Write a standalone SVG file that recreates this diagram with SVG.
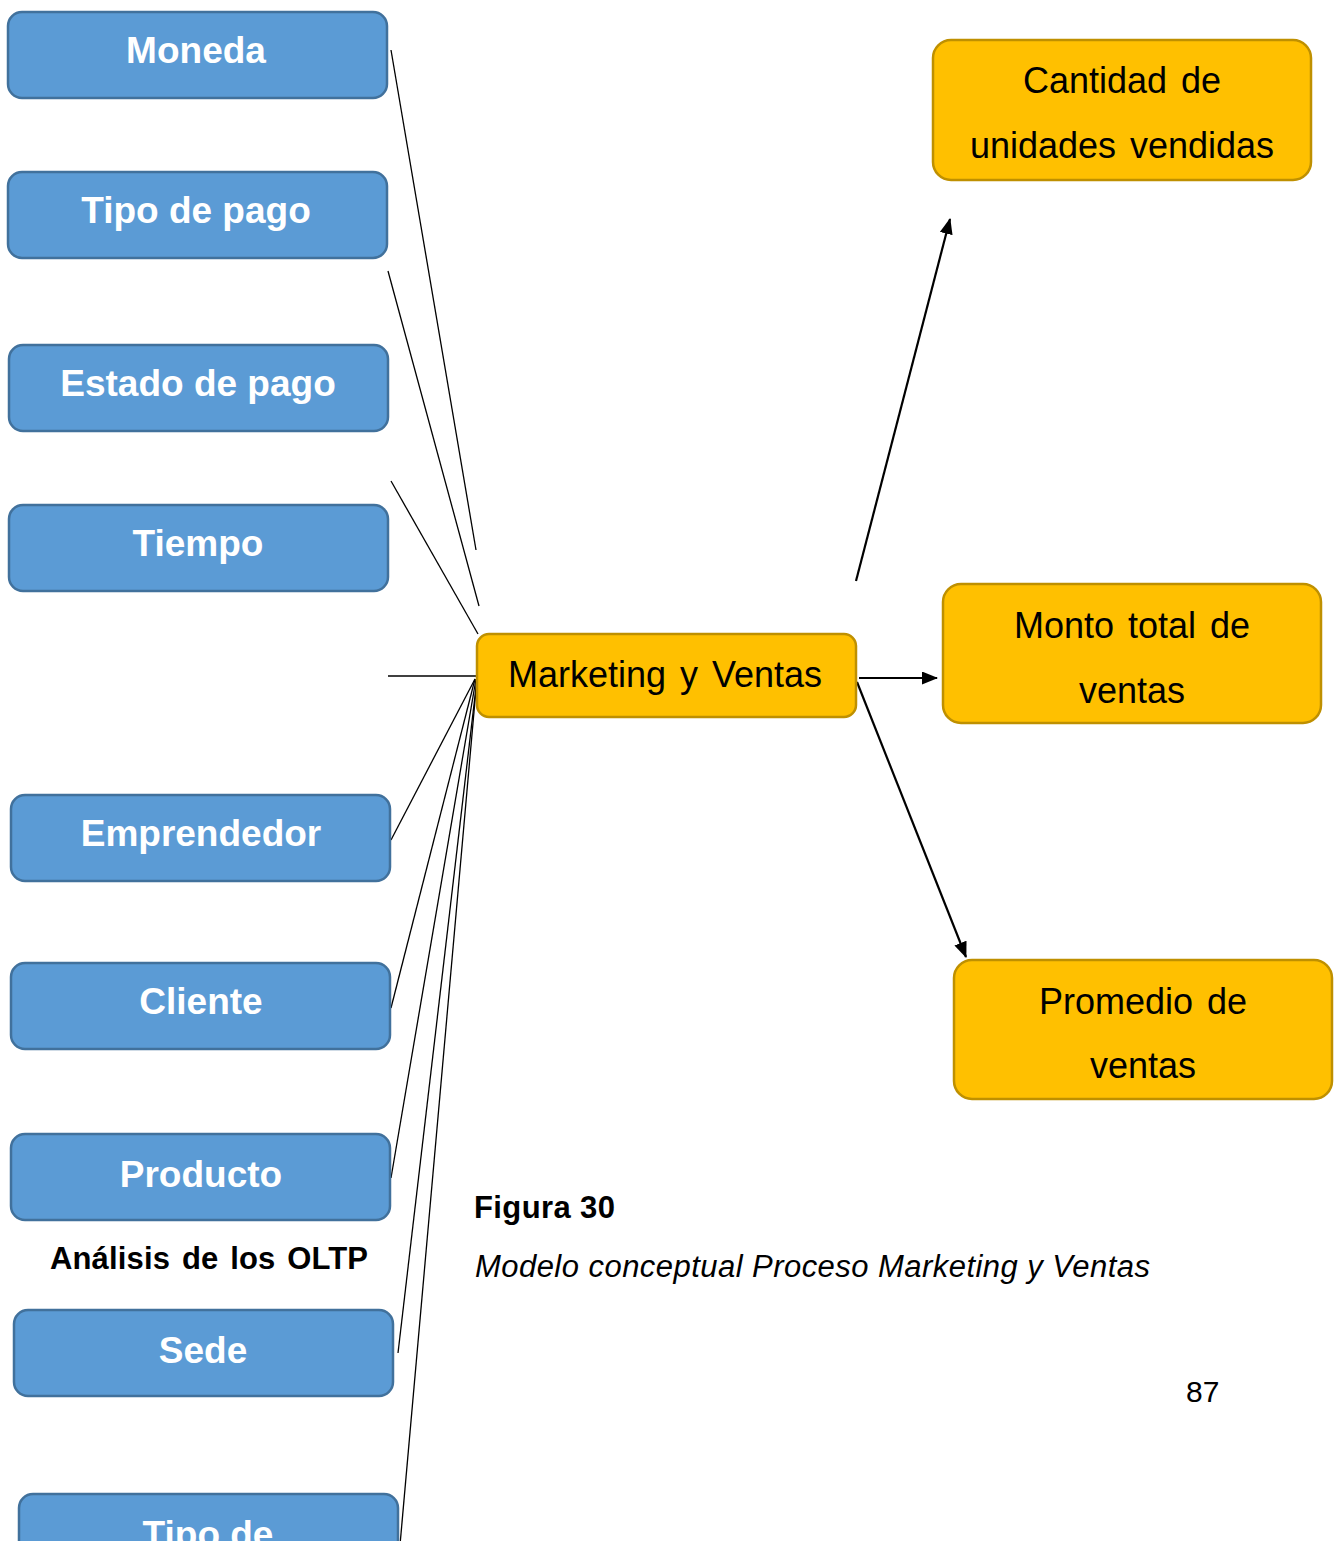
<svg xmlns="http://www.w3.org/2000/svg" width="1344" height="1541" viewBox="0 0 1344 1541">
  <style>
    .dim rect { fill: #5B9BD5; stroke: #41719C; stroke-width: 2.5; }
    .dim text { font-family: "Liberation Sans", Arial, sans-serif; font-weight: bold; font-size: 37px; fill: #FFFFFF; text-anchor: middle; }
    .fact rect { fill: #FFC000; stroke: #BF9000; stroke-width: 2.5; }
    .fact text { font-family: "Liberation Sans", Arial, sans-serif; font-size: 36px; fill: #000000; text-anchor: middle; word-spacing: 4px; }
    .link { stroke: #000000; stroke-width: 1.3; fill: none; }
    .arrow { stroke: #000000; stroke-width: 2.2; fill: none; marker-end: url(#head); }
    .caption { font-family: "Liberation Sans", Arial, sans-serif; fill: #000000; }
  </style>
  <defs>
    <marker id="head" viewBox="0 0 16 13" refX="15" refY="6.5" markerWidth="16" markerHeight="13" markerUnits="userSpaceOnUse" orient="auto">
      <path d="M0,0 L16,6.5 L0,13 z" fill="#000000"/>
    </marker>
  </defs>

  <rect width="1344" height="1541" fill="#FFFFFF"/>

  <!-- connectors -->
  <g id="connectors">
    <line class="link" x1="391" y1="50" x2="476" y2="550"/>
    <line class="link" x1="388" y1="271" x2="479" y2="606"/>
    <line class="link" x1="391" y1="481" x2="478" y2="634"/>
    <line class="link" x1="388" y1="676" x2="477" y2="676"/>
    <line class="link" x1="391" y1="840" x2="475" y2="679"/>
    <line class="link" x1="391" y1="1008" x2="475" y2="679"/>
    <line class="link" x1="391" y1="1178" x2="476" y2="679"/>
    <line class="link" x1="398" y1="1353" x2="477" y2="679"/>
    <line class="link" x1="400" y1="1545" x2="477" y2="678"/>
    <line class="arrow" x1="856" y1="581" x2="950" y2="219"/>
    <line class="arrow" x1="859" y1="678" x2="937" y2="678"/>
    <line class="arrow" x1="857" y1="682" x2="966" y2="957"/>
  </g>

  <!-- dimension nodes -->
  <g id="moneda" class="dim">
    <rect x="8" y="12" width="379" height="86" rx="14"/>
    <text x="196" y="63">Moneda</text>
  </g>
  <g id="tipo-de-pago" class="dim">
    <rect x="8" y="172" width="379" height="86" rx="14"/>
    <text x="196" y="223">Tipo de pago</text>
  </g>
  <g id="estado-de-pago" class="dim">
    <rect x="9" y="345" width="379" height="86" rx="14"/>
    <text x="198" y="396">Estado de pago</text>
  </g>
  <g id="tiempo" class="dim">
    <rect x="9" y="505" width="379" height="86" rx="14"/>
    <text x="198" y="556">Tiempo</text>
  </g>
  <g id="emprendedor" class="dim">
    <rect x="11" y="795" width="379" height="86" rx="14"/>
    <text x="201" y="846">Emprendedor</text>
  </g>
  <g id="cliente" class="dim">
    <rect x="11" y="963" width="379" height="86" rx="14"/>
    <text x="201" y="1014">Cliente</text>
  </g>
  <g id="producto" class="dim">
    <rect x="11" y="1134" width="379" height="86" rx="14"/>
    <text x="201" y="1187">Producto</text>
  </g>
  <g id="sede" class="dim">
    <rect x="14" y="1310" width="379" height="86" rx="14"/>
    <text x="203" y="1363">Sede</text>
  </g>
  <g id="tipo-de" class="dim">
    <rect x="19" y="1494" width="379" height="86" rx="14"/>
    <text x="208" y="1547">Tipo de</text>
  </g>

  <!-- central process node -->
  <g id="marketing-ventas" class="fact">
    <rect x="477" y="634" width="379" height="83" rx="12"/>
    <text x="665" y="687">Marketing y Ventas</text>
  </g>

  <!-- measure nodes -->
  <g id="cantidad-unidades" class="fact">
    <rect x="933" y="40" width="378" height="140" rx="18"/>
    <text x="1122" y="93">Cantidad de</text>
    <text x="1122" y="158">unidades vendidas</text>
  </g>
  <g id="monto-total" class="fact">
    <rect x="943" y="584" width="378" height="139" rx="18"/>
    <text x="1132" y="638">Monto total de</text>
    <text x="1132" y="703">ventas</text>
  </g>
  <g id="promedio-ventas" class="fact">
    <rect x="954" y="960" width="378" height="139" rx="18"/>
    <text x="1143" y="1014">Promedio de</text>
    <text x="1143" y="1078">ventas</text>
  </g>

  <!-- captions -->
  <text class="caption" x="50" y="1269" font-size="31" font-weight="bold" word-spacing="3" textLength="318">Análisis de los OLTP</text>
  <text class="caption" x="474" y="1218" font-size="31" font-weight="bold" textLength="141">Figura 30</text>
  <text class="caption" x="475" y="1277" font-size="31" font-style="italic" textLength="675">Modelo conceptual Proceso Marketing y Ventas</text>
  <text class="caption" x="1186" y="1402" font-size="30">87</text>
</svg>
